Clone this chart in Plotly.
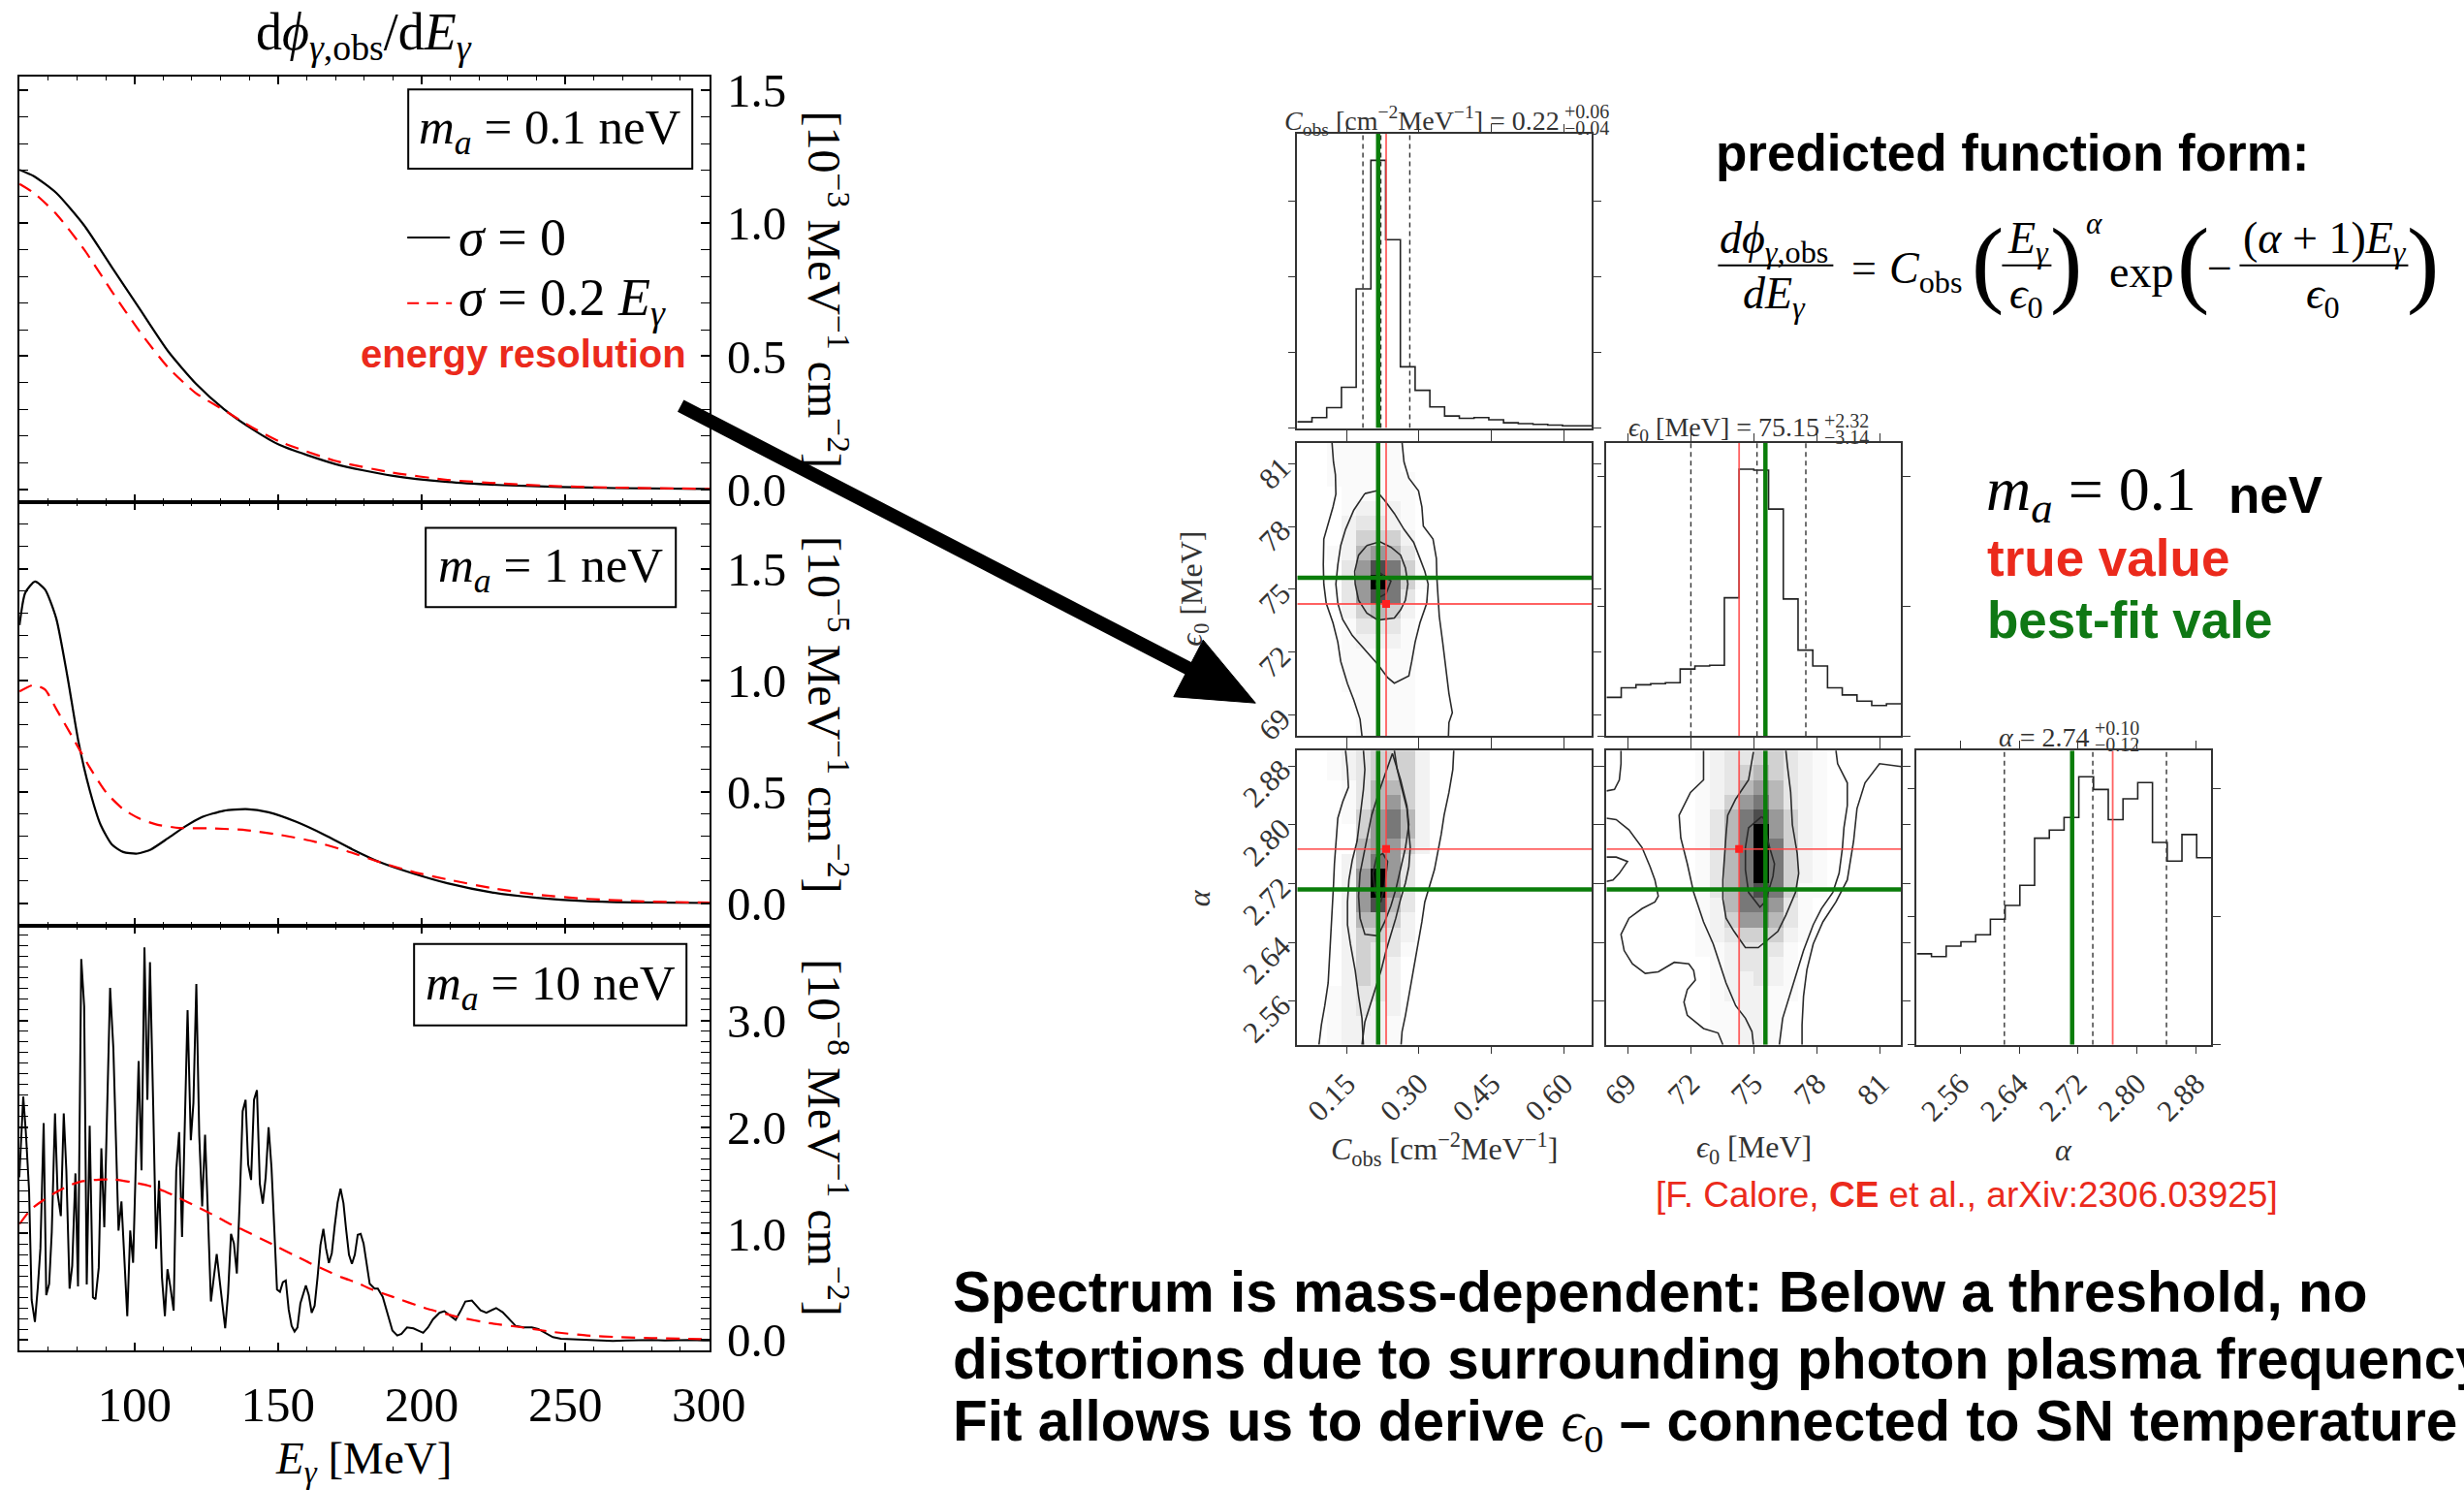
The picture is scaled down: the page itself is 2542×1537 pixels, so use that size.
import numpy as np
import plotly.graph_objects as go

# page geometry: target picture size, page zoom and where the figure div starts
PAGE_W, PAGE_H = 2542, 1537
S = 0.982
OFF_X, OFF_Y = 7, 14
FIG_W = int(round(PAGE_W / S)) - OFF_X - 8
FIG_H = int(round(PAGE_H / S)) - OFF_Y - 8

SERIF = "Liberation Serif"
SANS = "Liberation Sans"
GRAY = "#333333"
RED_TXT = "#eb2a1c"
GREEN_TXT = "#0f7814"
RED_LINE = "rgba(255,70,70,0.85)"
GREEN_LINE = "#0a7d0a"

# ---------------- observed spectra dphi/dE vs E_gamma [MeV] ----------------
# m_a = 0.1 neV  (units 1e-3 MeV^-1 cm^-2)
e_01 = [60.0, 65.0, 72.8, 82.5, 92.2, 101.9, 111.7, 121.4, 131.1, 140.9, 150.6,
        170.1, 189.5, 209.0, 228.4, 247.9, 267.4, 300.3]
flux_01_sharp = [1.201, 1.177, 1.114, 0.992, 0.834, 0.677, 0.519, 0.397, 0.302, 0.227,
                 0.166, 0.094, 0.051, 0.027, 0.015, 0.0085, 0.004, 0.001]
flux_01_smeared = [1.148, 1.114, 1.035, 0.901, 0.743, 0.592, 0.458, 0.361, 0.298, 0.233,
                   0.179, 0.106, 0.063, 0.035, 0.021, 0.011, 0.006, 0.001]

# m_a = 1 neV  (units 1e-5 MeV^-1 cm^-2)
e_1_sharp = [60.0, 62.0, 65.4, 68.9, 72.8, 76.7, 80.5, 84.4, 88.3, 92.2, 96.1, 101.0,
             105.8, 111.7, 117.5, 123.4, 131.1, 138.9, 146.7, 156.4, 166.2, 175.9, 185.6,
             197.3, 209.0, 224.5, 240.1, 257.6, 277.1, 300.3]
flux_1_sharp = [1.247, 1.392, 1.442, 1.406, 1.276, 1.015, 0.726, 0.509, 0.350, 0.263, 0.230,
                0.223, 0.242, 0.292, 0.343, 0.386, 0.415, 0.422, 0.408, 0.365, 0.307, 0.242,
                0.184, 0.133, 0.090, 0.049, 0.025, 0.010, 0.004, 0.0015]
e_1_smeared = [60.0, 65.0, 68.9, 72.8, 78.6, 84.4, 90.3, 96.1, 101.9, 107.8, 115.6, 127.3,
               138.9, 150.6, 162.3, 174.0, 185.6, 197.3, 209.0, 224.5, 240.1, 257.6, 277.1, 300.3]
flux_1_smeared = [0.950, 0.979, 0.958, 0.871, 0.741, 0.610, 0.495, 0.422, 0.379, 0.353, 0.338,
                  0.336, 0.328, 0.307, 0.278, 0.234, 0.184, 0.140, 0.107, 0.068, 0.039, 0.020,
                  0.009, 0.003]

# m_a = 10 neV  (units 1e-8 MeV^-1 cm^-2), (E, flux) pairs
spec_10_sharp = [
    (59.94, 1.527), (61.30, 2.285), (62.20, 1.952), (63.33, 1.406), (64.23, 0.376),
    (65.36, 0.170), (66.38, 0.497), (67.28, 0.861), (68.41, 2.036), (69.31, 0.421),
    (70.33, 0.527), (71.23, 1.012), (72.36, 2.127), (73.26, 1.376), (74.39, 1.164),
    (75.40, 2.127), (76.31, 1.588), (77.43, 0.482), (78.34, 0.694), (79.47, 1.564),
    (80.37, 0.503), (81.50, 3.576), (82.51, 3.133), (83.41, 0.521), (84.43, 2.012),
    (85.56, 0.400), (86.46, 0.382), (87.59, 0.679), (88.49, 1.800), (89.51, 1.058),
    (91.54, 3.306), (92.67, 2.739), (94.47, 1.027), (95.49, 1.300), (97.52, 0.224),
    (98.54, 1.027), (99.55, 0.724), (101.47, 2.618), (102.48, 1.594), (103.50, 3.685),
    (104.52, 2.255), (105.42, 3.548), (106.55, 2.194), (107.56, 0.855), (108.58, 1.497),
    (109.59, 0.588), (110.61, 0.224), (111.51, 0.664), (112.53, 0.497), (113.66, 0.276),
    (114.56, 1.588), (115.57, 1.952), (116.59, 0.967), (117.61, 2.012), (118.51, 3.097),
    (119.64, 1.876), (120.54, 2.224), (121.56, 3.342), (122.57, 1.921), (123.59, 1.255),
    (124.60, 1.927), (125.62, 1.164), (126.63, 0.361), (127.65, 0.588), (128.66, 0.806),
    (129.68, 0.558), (130.70, 0.285), (131.60, 0.109), (132.61, 0.436), (133.63, 0.997),
    (134.64, 0.906), (135.66, 0.624), (136.68, 1.315), (137.69, 2.148), (138.71, 2.255),
    (139.61, 1.648), (140.62, 1.503), (141.64, 2.255), (142.66, 2.345), (143.67, 1.467),
    (144.69, 1.279), (145.70, 1.527), (146.72, 1.997), (147.73, 1.618), (148.75, 1.012),
    (149.65, 0.473), (150.67, 0.452), (151.68, 0.542), (152.70, 0.558), (153.71, 0.285),
    (154.73, 0.133), (155.75, 0.079), (156.76, 0.118), (157.78, 0.345), (159.69, 0.512),
    (160.71, 0.421), (161.73, 0.255), (162.74, 0.321), (163.76, 0.588), (164.77, 0.891),
    (165.79, 1.042), (166.69, 0.861), (167.71, 0.724), (168.72, 0.815), (169.74, 1.073),
    (170.75, 1.291), (171.77, 1.421), (172.78, 1.285), (173.69, 1.042), (174.70, 0.800),
    (175.72, 0.715), (176.73, 0.800), (177.75, 0.988), (178.77, 0.997), (179.78, 0.906),
    (180.68, 0.739), (181.92, 0.527), (183.62, 0.482), (184.75, 0.482), (186.44, 0.406),
    (188.13, 0.255), (189.82, 0.088), (191.52, 0.042), (192.98, 0.058), (194.90, 0.118),
    (197.16, 0.109), (198.85, 0.088), (200.54, 0.067), (202.24, 0.118), (203.93, 0.194),
    (206.19, 0.255), (207.88, 0.270), (210.14, 0.224), (211.83, 0.188), (213.52, 0.270),
    (215.21, 0.361), (217.47, 0.370), (219.16, 0.315), (220.52, 0.279), (222.55, 0.255),
    (224.24, 0.279), (225.93, 0.300), (228.19, 0.261), (230.45, 0.194), (232.70, 0.133),
    (235.52, 0.118), (238.35, 0.118), (240.60, 0.103), (242.86, 0.067), (245.68, 0.027),
    (248.50, 0.012), (253.01, 0.006), (257.53, 0.000), (262.04, -0.010), (266.56, -0.010),
    (271.07, -0.005), (275.58, 0.000), (280.10, 0.000), (284.61, -0.004), (289.12, 0.000),
    (293.64, 0.000), (298.15, -0.004), (300.30, -0.004),
]
e_10_smeared = [60.0, 63.89, 68.41, 72.92, 77.43, 81.95, 87.59, 93.23, 98.87, 104.52, 110.16,
                115.80, 121.44, 127.08, 132.73, 138.37, 144.01, 149.65, 155.29, 160.94, 166.58,
                172.22, 177.86, 181.92, 189.82, 201.11, 212.39, 223.68, 234.96, 246.25, 257.53,
                268.81, 280.10, 291.38, 300.3]
flux_10_smeared = [1.088, 1.224, 1.315, 1.391, 1.452, 1.491, 1.506, 1.506, 1.482, 1.452, 1.400,
                   1.330, 1.255, 1.179, 1.097, 1.027, 0.952, 0.876, 0.800, 0.724, 0.655, 0.588,
                   0.533, 0.482, 0.406, 0.300, 0.218, 0.158, 0.118, 0.073, 0.042, 0.027, 0.018,
                   0.012, 0.006]

# ---------------- posterior (corner plot) ----------------
C_range = [0.048, 0.658]
eps_range = [68.0, 82.0]
alpha_range = [2.501, 2.901]

C_ticks = [0.15, 0.30, 0.45, 0.60]
eps_ticks = [69, 72, 75, 78, 81]
alpha_ticks = [2.56, 2.64, 2.72, 2.80, 2.88]

# 1D marginal histograms, 20 bins across each range
C_hist = [0.083, 0.14, 0.27, 0.54, 1.84, 3.54, 2.49, 0.81, 0.50, 0.28,
          0.16, 0.13, 0.14, 0.11, 0.07, 0.06, 0.05, 0.04, 0.03, 0.03]
eps_hist = [0.297, 0.371, 0.394, 0.403, 0.410, 0.516, 0.539, 0.545, 1.065, 2.055,
            2.048, 1.748, 1.055, 0.661, 0.539, 0.371, 0.316, 0.268, 0.235, 0.248]
alpha_hist = [0.711, 0.689, 0.770, 0.805, 0.859, 0.981, 1.089, 1.246, 1.614, 1.678,
              1.776, 2.095, 1.995, 1.759, 1.922, 2.049, 1.581, 1.435, 1.643, 1.462]
C_hist_top, eps_hist_top, alpha_hist_top = 3.89, 2.26, 2.30

best_fit = {"C": 0.2155, "eps": 75.55, "alpha": 2.712}
true_val = {"C": 0.232, "eps": 74.30, "alpha": 2.767}
quantiles = {"C": [0.184, 0.221, 0.281], "eps": [72.01, 75.15, 77.47],
             "alpha": [2.62, 2.74, 2.84]}

# 2D histogram shading levels (0 = empty ... 9 = densest), rows from top
dens_C_eps = [
    "00111110000000000000", "00111110000000000000", "00111111000000000000",
    "00011111000000000000", "00012221000000000000", "00023321000000000000",
    "00024442000000000000", "00125653000000000000", "00036874100000000000",
    "00036974100000000000", "00036873000000000000", "00024542000000000000",
    "00013331000000000000", "00012221000000000000", "00011111000000000000",
    "00011111000000000000", "00011111000000000000", "00001111000000000000",
    "00001111000000000000", "00001111000000000000",
]
dens_C_alpha = [
    "00123444200000000000", "00123444200000000000", "00013554200000000000",
    "00013564200000000000", "00014675200000000000", "00004675200000000000",
    "00005664200000000000", "00025763000000000000", "00026963000000000000",
    "00026963000000000000", "00026853000000000000", "00025542000000000000",
    "00024432000000000000", "00024331000000000000", "00024320000000000000",
    "00024320000000000000", "00123320000000000000", "00123220000000000000",
    "00122210000000000000", "00122210000000000000",
]
dens_eps_alpha = [
    "00000012334432100000", "00000012345432100000", "00000012356532100000",
    "00000012467532100000", "00000013578642100000", "00000013579642100000",
    "00000013579742100000", "00000013579742100000", "00000013579742100000",
    "00000013578741100000", "00000012577631000000", "00000012466531000000",
    "00000012344421000000", "00000011233310000000", "00000001233210000000",
    "00000001223210000000", "00000001222110000000", "00000001122100000000",
    "00000001122100000000", "00000001122100000000",
]
DARK = [0.0, 0.02, 0.05, 0.10, 0.18, 0.28, 0.40, 0.53, 0.70, 1.0]

# credible-region contours
cont_C_eps = [
    [(0.120, 82.0), (0.123, 81.08), (0.127, 80.47), (0.128, 79.54), (0.122, 78.93),
     (0.112, 78.16), (0.103, 77.40), (0.102, 76.17), (0.103, 75.25), (0.108, 74.33),
     (0.122, 73.40), (0.132, 72.48), (0.138, 71.56), (0.152, 70.49), (0.165, 69.72),
     (0.178, 68.80), (0.182, 68.0)],
    [(0.265, 82.0), (0.269, 81.08), (0.279, 80.31), (0.299, 79.70), (0.306, 78.93),
     (0.309, 78.01), (0.329, 77.40), (0.336, 76.47), (0.337, 75.55), (0.339, 74.79),
     (0.342, 73.71), (0.349, 72.48), (0.356, 71.26), (0.362, 70.03), (0.369, 69.11),
     (0.362, 68.64), (0.361, 68.0)],
    [(0.188, 79.57), (0.212, 79.70), (0.229, 79.24), (0.249, 78.62), (0.269, 77.86),
     (0.289, 77.24), (0.302, 76.47), (0.312, 75.86), (0.319, 75.25), (0.316, 74.33),
     (0.302, 73.40), (0.292, 72.48), (0.285, 71.56), (0.279, 70.87), (0.249, 70.52),
     (0.235, 70.79), (0.215, 71.41), (0.192, 72.02), (0.162, 72.79), (0.142, 73.56),
     (0.132, 74.33), (0.128, 75.25), (0.132, 76.17), (0.138, 77.09), (0.148, 77.86),
     (0.165, 78.78), (0.188, 79.57)],
    [(0.192, 77.09), (0.219, 77.27), (0.242, 77.01), (0.262, 76.63), (0.272, 76.01),
     (0.277, 75.25), (0.272, 74.48), (0.262, 74.02), (0.249, 73.63), (0.215, 73.53),
     (0.192, 73.86), (0.175, 74.48), (0.168, 75.25), (0.167, 75.86), (0.175, 76.63),
     (0.192, 77.09)],
    [(0.219, 75.78), (0.242, 75.40), (0.232, 74.79), (0.219, 74.63), (0.212, 75.25),
     (0.219, 75.78)],
]
cont_C_alpha = [
    [(0.148, 2.901), (0.152, 2.875), (0.154, 2.851), (0.142, 2.831), (0.132, 2.809),
     (0.128, 2.778), (0.125, 2.747), (0.123, 2.717), (0.120, 2.681), (0.118, 2.646),
     (0.116, 2.616), (0.112, 2.585), (0.105, 2.554), (0.098, 2.528), (0.093, 2.501)],
    [(0.372, 2.901), (0.370, 2.875), (0.362, 2.844), (0.352, 2.813), (0.346, 2.787),
     (0.339, 2.765), (0.332, 2.739), (0.322, 2.717), (0.312, 2.695), (0.306, 2.668),
     (0.299, 2.642), (0.292, 2.611), (0.282, 2.576), (0.272, 2.541), (0.265, 2.519),
     (0.263, 2.501)],
    [(0.185, 2.901), (0.188, 2.875), (0.185, 2.848), (0.178, 2.813), (0.172, 2.778),
     (0.162, 2.752), (0.155, 2.725), (0.152, 2.695), (0.152, 2.664), (0.158, 2.638),
     (0.168, 2.602), (0.175, 2.567), (0.182, 2.537), (0.185, 2.501)],
    [(0.249, 2.901), (0.255, 2.875), (0.265, 2.848), (0.275, 2.822), (0.279, 2.791),
     (0.282, 2.769), (0.279, 2.743), (0.272, 2.721), (0.262, 2.699), (0.252, 2.673),
     (0.242, 2.651), (0.232, 2.629), (0.222, 2.603), (0.209, 2.576), (0.199, 2.554),
     (0.188, 2.532), (0.182, 2.501)],
    [(0.245, 2.897), (0.262, 2.861), (0.275, 2.826), (0.279, 2.800), (0.272, 2.769),
     (0.262, 2.739), (0.252, 2.712), (0.242, 2.690), (0.229, 2.668), (0.215, 2.649),
     (0.188, 2.651), (0.178, 2.673), (0.175, 2.703), (0.178, 2.734), (0.188, 2.769),
     (0.202, 2.813), (0.219, 2.848), (0.235, 2.879), (0.245, 2.897)],
    [(0.212, 2.756), (0.225, 2.761), (0.235, 2.750), (0.229, 2.717), (0.221, 2.695),
     (0.209, 2.708), (0.205, 2.734), (0.212, 2.756)],
]
cont_eps_alpha = [
    [(75.37, 2.811), (74.75, 2.796), (74.60, 2.769), (74.60, 2.739), (74.75, 2.708),
     (75.29, 2.688), (75.52, 2.695), (75.68, 2.708), (75.91, 2.730), (75.98, 2.747),
     (75.75, 2.769), (75.60, 2.787), (75.52, 2.807), (75.37, 2.811)],
    [(74.98, 2.899), (74.75, 2.861), (74.14, 2.835), (73.76, 2.813), (73.68, 2.787),
     (73.60, 2.756), (73.53, 2.725), (73.53, 2.699), (73.68, 2.673), (74.06, 2.655),
     (74.60, 2.633), (75.21, 2.633), (75.60, 2.642), (76.14, 2.655), (76.52, 2.677),
     (76.98, 2.708), (77.13, 2.734), (77.06, 2.761), (76.83, 2.800), (76.75, 2.844),
     (76.60, 2.879), (76.52, 2.901)],
    [(72.61, 2.901), (72.61, 2.861), (71.99, 2.844), (71.45, 2.813), (71.53, 2.782),
     (71.84, 2.747), (72.14, 2.708), (72.61, 2.668), (73.07, 2.638), (73.37, 2.611),
     (73.68, 2.585), (74.14, 2.554), (74.60, 2.537), (74.91, 2.519), (74.98, 2.501)],
    [(78.90, 2.901), (78.98, 2.883), (79.44, 2.857), (79.44, 2.826), (79.28, 2.796),
     (79.21, 2.769), (79.05, 2.734), (78.75, 2.708), (78.21, 2.686), (77.82, 2.664),
     (77.36, 2.629), (77.06, 2.602), (76.67, 2.567), (76.37, 2.537), (76.21, 2.501)],
    [(82.0, 2.879), (80.97, 2.883), (80.28, 2.857), (79.90, 2.822), (79.74, 2.778),
     (79.44, 2.725), (78.90, 2.695), (78.28, 2.668), (77.82, 2.638), (77.52, 2.603),
     (77.36, 2.567), (77.29, 2.528), (77.29, 2.501)],
    [(68.0, 2.809), (68.46, 2.807), (69.07, 2.793), (69.69, 2.769), (70.07, 2.743),
     (70.30, 2.725), (70.46, 2.703), (70.30, 2.695), (69.69, 2.686), (69.07, 2.673),
     (68.69, 2.651), (68.84, 2.629), (69.23, 2.611), (69.84, 2.598), (70.46, 2.600),
     (71.22, 2.613), (71.91, 2.611), (72.14, 2.602), (72.22, 2.589), (71.84, 2.576),
     (71.68, 2.559), (71.84, 2.541), (72.61, 2.523), (73.30, 2.517), (73.53, 2.501)],
    [(68.69, 2.901), (68.69, 2.883), (68.61, 2.861), (68.38, 2.848), (68.0, 2.846)],
    [(68.0, 2.756), (68.46, 2.756), (69.0, 2.750), (68.61, 2.734), (68.31, 2.725),
     (68.0, 2.723)],
]


# ---------------- helpers (picture pixel -> paper fraction) ----------------
def px(x):
    return (x / S - OFF_X) / FIG_W


def py(y):
    return 1 - (y / S - OFF_Y) / FIG_H


def dom_x(a, b):
    return [px(a), px(b)]


def dom_y(top, bottom):
    return [py(bottom), py(top)]


def axname(i, letter):
    return letter if i == 1 else f"{letter}{i}"


fig = go.Figure()
annotations = []
shapes = []


def ann(text, x, y, size, color="black", family=SERIF, xanchor="center",
        yanchor="middle", angle=0):
    annotations.append(dict(text=text, x=px(x), y=py(y), xref="paper", yref="paper",
                            showarrow=False, xanchor=xanchor, yanchor=yanchor,
                            textangle=angle, borderpad=0,
                            font=dict(family=family, size=size, color=color)))


def add_line(i, x, y, color, width=2.2, dash=None, smooth=True):
    line = dict(color=color, width=width)
    if dash:
        line["dash"] = dash
    if smooth:
        line["shape"] = "spline"
        line["smoothing"] = 0.6
    fig.add_trace(go.Scatter(x=x, y=y, mode="lines", line=line,
                             xaxis=axname(i, "x"), yaxis=axname(i, "y"),
                             hoverinfo="skip", showlegend=False))


# ---------------- left: spectra ----------------
DASH = "14px,9px"
add_line(1, e_01, flux_01_sharp, "black")
add_line(1, e_01, flux_01_smeared, "red", dash=DASH)
add_line(2, e_1_sharp, flux_1_sharp, "black")
add_line(2, e_1_smeared, flux_1_smeared, "red", dash=DASH)
e10 = [p[0] for p in spec_10_sharp]
f10 = [p[1] for p in spec_10_sharp]
add_line(3, e10, f10, "black", width=2.0, smooth=False)
add_line(3, e_10_smeared, flux_10_smeared, "red", dash=DASH)

left_x = dom_x(18, 730)
panel_rows = [(80, 519), (519, 957), (957, 1396)]
y_ranges = [[-0.047, 1.551], [-0.10, 1.80], [-0.10, 3.89]]
y_dticks = [0.5, 0.5, 1.0]

layout = dict(width=FIG_W, height=FIG_H, margin=dict(l=0, r=0, t=0, b=0),
              paper_bgcolor="white", plot_bgcolor="white", showlegend=False)

for i in range(1, 4):
    layout[f"xaxis{'' if i == 1 else i}"] = dict(
        domain=left_x, range=[60, 300.3], anchor=axname(i, "y"),
        showgrid=False, zeroline=False, showline=True, linecolor="black", linewidth=2,
        mirror="ticks", ticks="inside", ticklen=8, tickwidth=1.6, tickcolor="black",
        tick0=0, dtick=50, showticklabels=(i == 3), ticklabelstandoff=10,
        tickfont=dict(family=SERIF, size=51, color="black"),
        minor=dict(ticks="inside", dtick=10, ticklen=4, tickwidth=1.3, tickcolor="black"),
    )
    layout[f"yaxis{'' if i == 1 else i}"] = dict(
        domain=dom_y(*panel_rows[i - 1]), range=y_ranges[i - 1], anchor=axname(i, "x"),
        side="right", showgrid=False, zeroline=False, showline=True, linecolor="black",
        linewidth=2, mirror="ticks", ticks="inside", ticklen=9, tickwidth=1.6,
        tickcolor="black", tick0=0, dtick=y_dticks[i - 1], tickformat=".1f",
        ticklabelstandoff=6, tickfont=dict(family=SERIF, size=49, color="black"),
        minor=dict(ticks="inside", dtick=0.1, ticklen=9, tickwidth=1.3, tickcolor="black"),
    )

ann("d<i>ϕ</i><sub><i>γ</i>,obs</sub>/d<i>E</i><sub><i>γ</i></sub>", 373, 37, 54)
ann("<i>E</i><sub><i>γ</i></sub> [MeV]", 373, 1510, 47)
for expo, yc in [("−3", 300), ("−5", 739), ("−8", 1176)]:
    ann(f"[10<sup>{expo}</sup> MeV<sup>−1</sup> cm<sup>−2</sup>]", 852, yc, 48, angle=90)

# mass boxes
for (x0, y0, x1, y1), label in [((419, 93, 712, 175), "0.1"),
                                 ((437, 546, 695, 628), "1"),
                                 ((425, 976, 706, 1060), "10")]:
    shapes.append(dict(type="rect", xref="paper", yref="paper", x0=px(x0), x1=px(x1),
                       y0=py(y1), y1=py(y0), line=dict(color="black", width=2)))
    ann(f"<i>m</i><sub><i>a</i></sub> = {label} neV", (x0 + x1) / 2, (y0 + y1) / 2 + 2, 51)

# legend
shapes.append(dict(type="line", xref="paper", yref="paper", x0=px(418), x1=px(462),
                   y0=py(246), y1=py(246), line=dict(color="black", width=2)))
shapes.append(dict(type="line", xref="paper", yref="paper", x0=px(418), x1=px(464),
                   y0=py(314), y1=py(314), line=dict(color="red", width=2, dash="12px,8px")))
ann("<i>σ</i> = 0", 470, 246, 54, xanchor="left")
ann("<i>σ</i> = 0.2 <i>E</i><sub><i>γ</i></sub>", 470, 312, 54, xanchor="left")
ann("<b>energy resolution</b>", 707, 366, 40, color=RED_TXT, family=SANS, xanchor="right")

# ---------------- right: corner plot ----------------
cols = [(1336, 1640), (1655, 1959), (1975, 2279)]
rows = [(139, 443), (458, 761), (776, 1080)]


def corner_axis(dom, rng, tickvals, anchor, labels=False, ticktext=None):
    d = dict(domain=dom, range=rng, anchor=anchor, tickvals=tickvals,
             showticklabels=labels, ticks="outside", ticklen=8, tickwidth=1.3,
             tickcolor=GRAY, showline=True, linecolor=GRAY, linewidth=1.5,
             mirror="ticks", showgrid=False, zeroline=False, tickangle=-45,
             tickfont=dict(family=SERIF, size=31, color=GRAY))
    if ticktext is not None:
        d["ticktext"] = ticktext
    return d


C_text = [f"{v:.2f}" for v in C_ticks]
a_text = [f"{v:.2f}" for v in alpha_ticks]
e_text = [str(v) for v in eps_ticks]

# panel index -> (col, row, xrange, yrange, xticks, yticks, xlabels, ylabels)
panels = {
    4: (0, 0, C_range, [0, C_hist_top], (C_ticks, None), ([0, 1, 2, 3], None), False, False),
    5: (0, 1, C_range, eps_range, (C_ticks, None), (eps_ticks, e_text), False, True),
    6: (1, 1, eps_range, [0, eps_hist_top], (eps_ticks, None), ([0, 1, 2], None), False, False),
    7: (0, 2, C_range, alpha_range, (C_ticks, C_text), (alpha_ticks, a_text), True, True),
    8: (1, 2, eps_range, alpha_range, (eps_ticks, e_text), (alpha_ticks, None), True, False),
    9: (2, 2, alpha_range, [0, alpha_hist_top], (alpha_ticks, a_text), ([0, 1, 2], None), True, False),
}
for i, (c, r, xr, yr, xt, yt, xl, yl) in panels.items():
    layout[f"xaxis{i}"] = corner_axis(dom_x(*cols[c]), xr, xt[0], f"y{i}", xl, xt[1])
    layout[f"yaxis{i}"] = corner_axis(dom_y(*rows[r]), yr, yt[0], f"x{i}", yl, yt[1])


def centers(rng):
    e = np.linspace(rng[0], rng[1], 21)
    return 0.5 * (e[1:] + e[:-1])


def density(rows_txt):
    return [[DARK[int(ch)] for ch in row] for row in rows_txt][::-1]


for i, xr, yr, dens, conts in [(5, C_range, eps_range, dens_C_eps, cont_C_eps),
                               (7, C_range, alpha_range, dens_C_alpha, cont_C_alpha),
                               (8, eps_range, alpha_range, dens_eps_alpha, cont_eps_alpha)]:
    fig.add_trace(go.Heatmap(x=centers(xr), y=centers(yr), z=density(dens), zmin=0, zmax=1,
                             colorscale=[[0, "#ffffff"], [1, "#000000"]], showscale=False,
                             xaxis=f"x{i}", yaxis=f"y{i}", hoverinfo="skip"))
    for cl in conts:
        fig.add_trace(go.Scatter(x=[p[0] for p in cl], y=[p[1] for p in cl], mode="lines",
                                 line=dict(color="#2a2a2a", width=1.6),
                                 xaxis=f"x{i}", yaxis=f"y{i}", hoverinfo="skip"))

# marginal histograms with quantile markers
for i, rng, counts, key in [(4, C_range, C_hist, "C"), (6, eps_range, eps_hist, "eps"),
                            (9, alpha_range, alpha_hist, "alpha")]:
    edges = np.linspace(rng[0], rng[1], 21)
    fig.add_trace(go.Scatter(x=edges, y=list(counts) + [counts[-1]], mode="lines",
                             line=dict(color="#222222", width=1.6, shape="hv"),
                             xaxis=f"x{i}", yaxis=f"y{i}", hoverinfo="skip"))
    top = layout[f"yaxis{i}"]["range"][1]
    for q in quantiles[key]:
        fig.add_trace(go.Scatter(x=[q, q], y=[0, top], mode="lines",
                                 line=dict(color="#333333", width=1.4, dash="5px,4px"),
                                 xaxis=f"x{i}", yaxis=f"y{i}", hoverinfo="skip"))

# true (red) and best-fit (green) reference lines
col_param = {0: "C", 1: "eps", 2: "alpha"}
row_param = {1: "eps", 2: "alpha"}
for values, color, width in [(true_val, RED_LINE, 1.8), (best_fit, GREEN_LINE, 4.5)]:
    for i, (c, r, xr, yr, *_rest) in panels.items():
        xv = values[col_param[c]]
        fig.add_trace(go.Scatter(x=[xv, xv], y=yr, mode="lines",
                                 line=dict(color=color, width=width),
                                 xaxis=f"x{i}", yaxis=f"y{i}", hoverinfo="skip"))
        if r in row_param and c < r:
            yv = values[row_param[r]]
            fig.add_trace(go.Scatter(x=xr, y=[yv, yv], mode="lines",
                                     line=dict(color=color, width=width),
                                     xaxis=f"x{i}", yaxis=f"y{i}", hoverinfo="skip"))
for i, kx, ky in [(5, "C", "eps"), (7, "C", "alpha"), (8, "eps", "alpha")]:
    fig.add_trace(go.Scatter(x=[true_val[kx]], y=[true_val[ky]], mode="markers",
                             marker=dict(symbol="square", size=8, color="#ff2020"),
                             xaxis=f"x{i}", yaxis=f"y{i}", hoverinfo="skip"))

# corner titles
for main, sup, sub, xs, yc in [
        ("<i>C</i><sub>obs</sub> [cm<sup>−2</sup>MeV<sup>−1</sup>] = 0.22", "+0.06", "−0.04", 1608, 125),
        ("<i>ϵ</i><sub>0</sub> [MeV] = 75.15", "+2.32", "−3.14", 1876, 444),
        ("<i>α</i> = 2.74", "+0.10", "−0.12", 2155, 762)]:
    ann(main, xs, yc, 28, color=GRAY, xanchor="right")
    ann(sup, xs + 3, yc - 9, 20, color=GRAY, xanchor="left")
    ann(sub, xs + 3, yc + 8, 20, color=GRAY, xanchor="left")

ann("<i>C</i><sub>obs</sub> [cm<sup>−2</sup>MeV<sup>−1</sup>]", 1488, 1188, 32, color=GRAY)
ann("<i>ϵ</i><sub>0</sub> [MeV]", 1807, 1188, 32, color=GRAY)
ann("<i>α</i>", 2127, 1188, 32, color=GRAY)
ann("<i>ϵ</i><sub>0</sub> [MeV]", 1229, 609, 32, color=GRAY, angle=-90)
ann("<i>α</i>", 1235, 928, 32, color=GRAY, angle=-90)

# ---------------- slide text ----------------
ann("<b>predicted function form:</b>", 1767, 158, 53, family=SANS, xanchor="left")

FS = 46
ann("<i>dϕ</i><sub><i>γ</i>,obs</sub>", 1828, 250, FS)
ann("<i>dE</i><sub><i>γ</i></sub>", 1828, 307, FS)
ann("=", 1921, 278, FS)
ann("<i>C</i><sub>obs</sub>", 1984, 281, FS)
ann("(", 2048, 272, 100)
ann("<i>E</i><sub><i>γ</i></sub>", 2090, 250, FS)
ann("<i>ϵ</i><sub>0</sub>", 2088, 307, FS)
ann(")", 2129, 272, 100)
ann("<i>α</i>", 2158, 232, 31)
ann("exp", 2207, 282, FS)
ann("(", 2260, 272, 100)
ann("−", 2288, 278, FS)
ann("(<i>α</i> + 1)<i>E</i><sub><i>γ</i></sub>", 2396, 250, FS)
ann("<i>ϵ</i><sub>0</sub>", 2394, 307, FS)
ann(")", 2497, 272, 100)
for x0, x1 in [(1770, 1889), (2063, 2114), (2308, 2482)]:
    shapes.append(dict(type="line", xref="paper", yref="paper", x0=px(x0), x1=px(x1),
                       y0=py(275), y1=py(275), line=dict(color="black", width=2)))

ann("<i>m</i><sub><i>a</i></sub> = 0.1", 2046, 510, 64, xanchor="left")
ann("<b>neV</b>", 2296, 512, 53, family=SANS, xanchor="left")
ann("<b>true value</b>", 2047, 577, 53, color=RED_TXT, family=SANS, xanchor="left")
ann("<b>best-fit vale</b>", 2047, 641, 53, color=GREEN_TXT, family=SANS, xanchor="left")
ann("[F. Calore, <b>CE</b> et al., arXiv:2306.03925]", 1705, 1235, 37, color=RED_TXT,
    family=SANS, xanchor="left")

ann("<b>Spectrum is mass-dependent: Below a threshold, no</b>", 980, 1335, 58.5,
    family=SANS, xanchor="left")
ann("<b>distortions due to surrounding photon plasma frequency</b>", 980, 1404, 58.5,
    family=SANS, xanchor="left")
ann("<b>Fit allows us to derive </b><span style=\"font-family:'Liberation Serif'\">"
    "<i>ϵ</i><sub>0</sub></span><b> – connected to SN temperature</b>", 980, 1473, 58.5,
    family=SANS, xanchor="left")

# arrow from the 0.1 neV spectrum to the fit
tail = np.array([700.0, 420.0])
tip = np.array([1293.0, 727.0])
u = (tip - tail) / np.linalg.norm(tip - tail)
n = np.array([-u[1], u[0]])
base = tip - 78 * u
c1, c2 = base + 33 * n, base - 33 * n
shapes.append(dict(type="line", xref="paper", yref="paper", x0=px(tail[0]), y0=py(tail[1]),
                   x1=px(base[0] + 4 * u[0]), y1=py(base[1] + 4 * u[1]),
                   line=dict(color="black", width=14)))
shapes.append(dict(type="path", xref="paper", yref="paper",
                   path=f"M {px(tip[0])} {py(tip[1])} L {px(c1[0])} {py(c1[1])} "
                        f"L {px(c2[0])} {py(c2[1])} Z",
                   fillcolor="black", line=dict(color="black", width=1)))

layout["annotations"] = annotations
layout["shapes"] = shapes
fig.update_layout(**layout)
fig.write_html("out.html", config={"responsive": False, "displayModeBar": False})
